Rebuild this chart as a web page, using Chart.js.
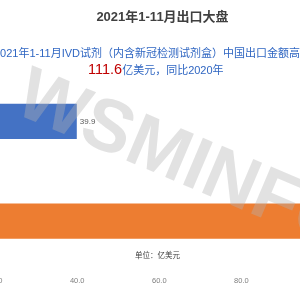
<!DOCTYPE html>
<html>
<head>
<meta charset="utf-8">
<script src="https://cdn.jsdelivr.net/npm/chart.js@4"></script>
<style>
  html, body { margin: 0; padding: 0; background: #fff; overflow: hidden; }
  #wrap { position: relative; width: 300px; height: 300px; overflow: hidden; }
  #exportChart { position: absolute; left: -100px; top: 0; }
</style>
</head>
<body>
<div id="wrap"><canvas id="exportChart" width="520" height="300"></canvas></div>
<script>
// chart data
const categories = ['2020年1-11月', '2021年1-11月'];
const exportValues = [39.9, 111.6];
const barColors = ['#4472C4', '#ED7D31'];
const axisMin = 0;
const axisMax = 120;
const axisStep = 20;

const titleText = '2021年1-11月出口大盘';
const subLine1 = '2021年1-11月IVD试剂（内含新冠检测试剂盒）中国出口金额高';
const subValue = '111.6';
const subRest = '亿美元，同比2020年';
const unitText = '单位：亿美元';
const watermarkText = 'WSMINFO';

const FONT = "'Liberation Sans', 'Noto Sans CJK SC', sans-serif";
const OFF = 100; // canvas is shifted left by this much

const overlayText = {
    id: 'overlayText',
    afterDraw(chart) {
        const ctx = chart.ctx;
        ctx.save();

        // value labels
        const meta = chart.getDatasetMeta(0);
        ctx.font = '8px ' + FONT;
        ctx.fillStyle = '#595959';
        ctx.textAlign = 'left';
        ctx.textBaseline = 'middle';
        meta.data.forEach((bar, i) => {
            ctx.fillText(exportValues[i].toFixed(1), bar.x + 3, bar.y);
        });

        // title
        ctx.font = 'bold 13px ' + FONT;
        ctx.fillStyle = '#404040';
        ctx.textAlign = 'center';
        ctx.fillText(titleText, OFF + 162.5, 17);

        // subtitle
        ctx.textAlign = 'left';
        ctx.font = '11px ' + FONT;
        ctx.fillStyle = '#2F66C2';
        ctx.fillText(subLine1, OFF - 6, 53.5);

        let x = OFF + 88;
        ctx.font = '14.5px ' + FONT;
        ctx.fillStyle = '#C00000';
        ctx.fillText(subValue, x, 70);
        x += ctx.measureText(subValue).width;
        ctx.font = '11px ' + FONT;
        ctx.fillStyle = '#2F66C2';
        ctx.fillText(subRest, x, 71);

        // unit
        ctx.font = '7.5px ' + FONT;
        ctx.fillStyle = '#404040';
        ctx.textAlign = 'center';
        ctx.fillText(unitText, OFF + 157.5, 255.5);

        // watermark
        ctx.translate(OFF + 12, 112);
        ctx.rotate(23 * Math.PI / 180);
        ctx.font = 'bold 74px ' + FONT;
        ctx.fillStyle = 'rgba(180,180,180,0.38)';
        ctx.textAlign = 'left';
        ctx.textBaseline = 'alphabetic';
        ctx.fillText(watermarkText, 0, 0);

        ctx.restore();
    }
};

new Chart(document.getElementById('exportChart'), {
    type: 'bar',
    data: {
        labels: categories,
        datasets: [{
            data: exportValues,
            backgroundColor: barColors,
            borderWidth: 0,
            categoryPercentage: 1,
            barPercentage: 0.355
        }]
    },
    options: {
        indexAxis: 'y',
        responsive: false,
        devicePixelRatio: 1,
        animation: false,
        layout: {
            padding: { left: 13, right: 12, top: 71.5, bottom: 10 }
        },
        plugins: {
            legend: { display: false },
            title: { display: false },
            tooltip: { enabled: false }
        },
        scales: {
            x: {
                min: axisMin,
                max: axisMax,
                grid: { display: false, drawTicks: false },
                border: { display: false },
                ticks: {
                    stepSize: axisStep,
                    autoSkip: false,
                    maxRotation: 0,
                    padding: 5,
                    color: '#7F7F7F',
                    font: { size: 7.5, family: FONT },
                    callback: (v) => Number(v).toFixed(1)
                }
            },
            y: {
                display: false
            }
        }
    },
    plugins: [overlayText]
});
</script>
</body>
</html>
